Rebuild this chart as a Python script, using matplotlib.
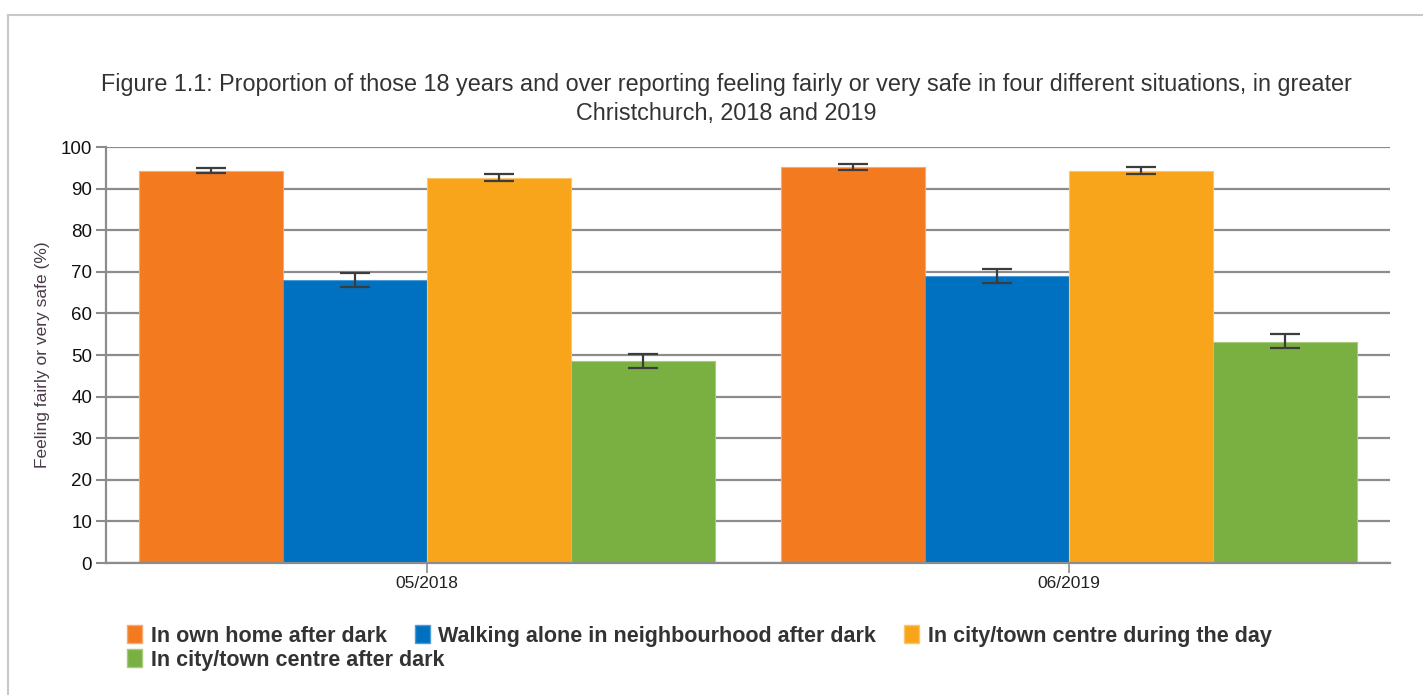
import numpy as np
import matplotlib.pyplot as plt
from matplotlib.patches import Patch
from matplotlib.lines import Line2D

plt.rcParams['font.family'] = ['Liberation Sans', 'DejaVu Sans']

# Datos
periodos = ["05/2018", "06/2019"]
series = ["In own home after dark",
          "Walking alone in neighbourhood after dark",
          "In city/town centre during the day",
          "In city/town centre after dark"]
valores = [[94.2, 95.1],
           [68.0, 69.1],
           [92.6, 94.3],
           [48.6, 53.2]]
err_bajo = [[93.7, 94.5],
            [66.4, 67.4],
            [91.8, 93.5],
            [46.9, 51.6]]
err_alto = [[95.0, 95.8],
            [69.6, 70.6],
            [93.6, 95.2],
            [50.2, 55.0]]
colores = ["#f47a20", "#0071c0", "#f9a51b", "#7aaf41"]
bordes = ["#f9a871", "#4d9bd6", "#fcc56a", "#a6cb7e"]

fig = plt.figure(figsize=(14.23, 6.95), dpi=100)
ax = fig.add_axes([106/1423, 1-563/695, (1390-106)/1423, (563-147)/695])

# Marco gris exterior
fig.add_artist(Line2D([8/1423, 1], [1-15/695, 1-15/695], color="#c8c8c8", lw=1.5))
fig.add_artist(Line2D([8/1423, 8/1423], [0, 1-15/695], color="#c8c8c8", lw=1.5))

x = np.arange(len(periodos))
ancho = 0.2243
for i, nombre in enumerate(series):
    pos = x + (i - 1.5) * ancho
    v = np.array(valores[i])
    yerr = [v - np.array(err_bajo[i]), np.array(err_alto[i]) - v]
    ax.bar(pos, v, ancho, color=colores[i], edgecolor=bordes[i], linewidth=0.8, zorder=2)
    ax.errorbar(pos, v, yerr=yerr, fmt='none', ecolor="#3c3c3c", elinewidth=1.6,
                capsize=10.5, capthick=1.6, zorder=3)

ax.set_xlim(-0.5, 1.5)
ax.set_ylim(0, 100)
ax.set_yticks(np.arange(0, 101, 10))
ax.set_xticks(x)
ax.set_xticklabels(periodos, fontsize=12.5, color="#222222")
ax.tick_params(axis='y', length=7, width=1.5, color="#8c8c8c", labelsize=13.5,
               labelcolor="#111111", pad=3)
ax.tick_params(axis='x', length=7, width=1.2, color="#8c8c8c", pad=2)
ax.grid(axis='y', color="#8c8c8c", linewidth=1.6, zorder=0)
ax.set_axisbelow(True)
for lado in ['top', 'right']:
    ax.spines[lado].set_visible(False)
ax.spines['left'].set_color("#8c8c8c")
ax.spines['left'].set_linewidth(1.6)
ax.spines['bottom'].set_color("#8c8c8c")
ax.spines['bottom'].set_linewidth(1.6)
ax.set_ylabel("Feeling fairly or very safe (%)", fontsize=12.5, color="#4a3a4a", labelpad=8)

fig.text(726/1423, 1-99/695, "Figure 1.1: Proportion of those 18 years and over reporting feeling fairly or very safe in four different situations, in greater\nChristchurch, 2018 and 2019",
         ha='center', va='center', fontsize=16.8, color="#333333", linespacing=1.32)

# Leyenda en dos filas como el original
manijas = [Patch(facecolor=colores[i], edgecolor=bordes[i]) for i in range(4)]
props = dict(frameon=False, prop={'size': 15.5, 'weight': 'bold'}, handlelength=0.7,
             handleheight=0.9, handletextpad=0.4, columnspacing=1.3, borderpad=0,
             borderaxespad=0, labelcolor="#333333")
fig.legend(manijas[:3], series[:3], ncol=3, loc='center left',
           bbox_to_anchor=(127/1423, 1-636/695), **props)
fig.legend(manijas[3:], series[3:], ncol=1, loc='center left',
           bbox_to_anchor=(127/1423, 1-660/695), **props)

fig.savefig("out.png", dpi=100)
